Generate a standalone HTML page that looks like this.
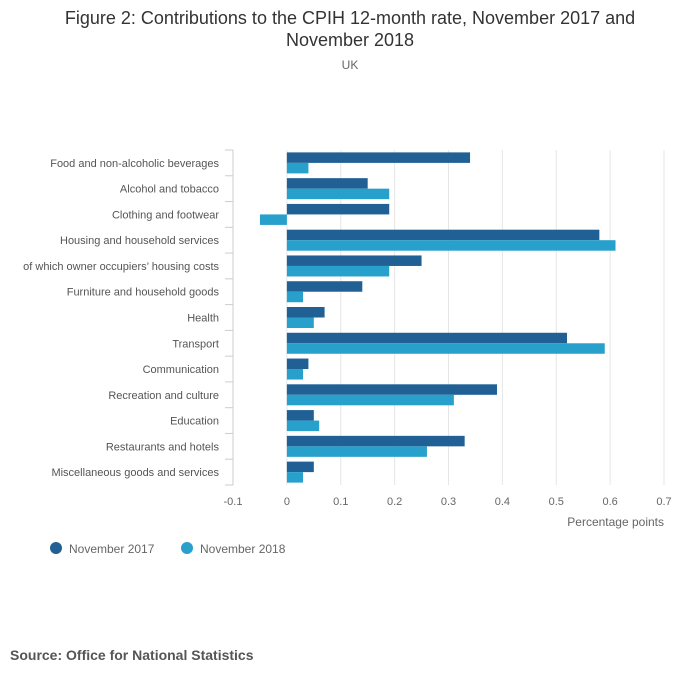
<!DOCTYPE html>
<html><head><meta charset="utf-8"><style>
body{margin:0;background:#fff;font-family:"Liberation Sans",sans-serif;}
</style></head><body>
<svg width="700" height="682" xmlns="http://www.w3.org/2000/svg" font-family="Liberation Sans, sans-serif">
<text x="350" y="24" text-anchor="middle" font-size="18" fill="#333">Figure 2: Contributions to the CPIH 12-month rate, November 2017 and</text>
<text x="350" y="46" text-anchor="middle" font-size="18" fill="#333">November 2018</text>
<text x="350" y="69" text-anchor="middle" font-size="12" fill="#666">UK</text>
<g id="grid"></g><g id="bars"></g><g id="labels"></g>
<text x="664" y="526" text-anchor="end" font-size="12" fill="#666">Percentage points</text>
<g>
<circle cx="56" cy="548" r="6" fill="#206095"/>
<text x="69" y="553" font-size="12" fill="#666">November 2017</text>
<circle cx="187" cy="548" r="6" fill="#27a0cc"/>
<text x="200" y="553" font-size="12" fill="#666">November 2018</text>
</g>
<text x="10" y="660" font-size="14" font-weight="bold" fill="#555">Source: Office for National Statistics</text>
</svg>
<script>
const categories=["Food and non-alcoholic beverages","Alcohol and tobacco","Clothing and footwear","Housing and household services","of which owner occupiers’ housing costs","Furniture and household goods","Health","Transport","Communication","Recreation and culture","Education","Restaurants and hotels","Miscellaneous goods and services"];
const nov2017=[0.34,0.15,0.19,0.58,0.25,0.14,0.07,0.52,0.04,0.39,0.05,0.33,0.05];
const nov2018=[0.04,0.19,-0.05,0.61,0.19,0.03,0.05,0.59,0.03,0.31,0.06,0.26,0.03];
const ticks=[-0.1,0,0.1,0.2,0.3,0.4,0.5,0.6,0.7];
const tickLabels=["-0.1","0","0.1","0.2","0.3","0.4","0.5","0.6","0.7"];
const NS="http://www.w3.org/2000/svg";
const x0=233,x1=664,plotTop=150,plotBottom=485;
const xs=v=>x0+(v+0.1)/0.8*(x1-x0);
const band=(plotBottom-plotTop)/categories.length;
const ys=i=>plotTop+band*i;
function mk(t,a,p){const e=document.createElementNS(NS,t);for(const k in a)e.setAttribute(k,a[k]);p.appendChild(e);return e;}
const g=document.getElementById('grid'),b=document.getElementById('bars'),l=document.getElementById('labels');
ticks.forEach((t,i)=>{
 const ln=mk('line',{x1:xs(t),x2:xs(t),y1:plotTop,y2:plotBottom,stroke:i==0?'#ccc':'#e6e6e6','stroke-width':1},g);
 
 
 const tx=mk('text',{x:xs(t),y:plotBottom+20,'text-anchor':'middle','font-size':11,fill:'#666'},g);
 tx.textContent=tickLabels[i];
 
 
});
for(let i=0;i<=categories.length;i++){
 const tk=mk('line',{x1:x0-8,x2:x0,y1:ys(i),y2:ys(i),stroke:'#ccc'},g);
 
 
}
const bh=10.5;
categories.forEach((c,i)=>{
 const cy=ys(i)+band/2;
 const tx=mk('text',{x:219,y:cy+4,'text-anchor':'end','font-size':11,fill:'#555'},l);
 tx.textContent=c;
 
 
 const v1=nov2017[i],v2=nov2018[i];
 const r1=mk('rect',{x:Math.min(xs(0),xs(v1)),y:cy-bh,width:Math.abs(xs(v1)-xs(0)),height:bh,fill:'#206095'},b);
 
 
 const r2=mk('rect',{x:Math.min(xs(0),xs(v2)),y:cy,width:Math.abs(xs(v2)-xs(0)),height:bh,fill:'#27a0cc'},b);
 
 
});
</script>
</body></html>
